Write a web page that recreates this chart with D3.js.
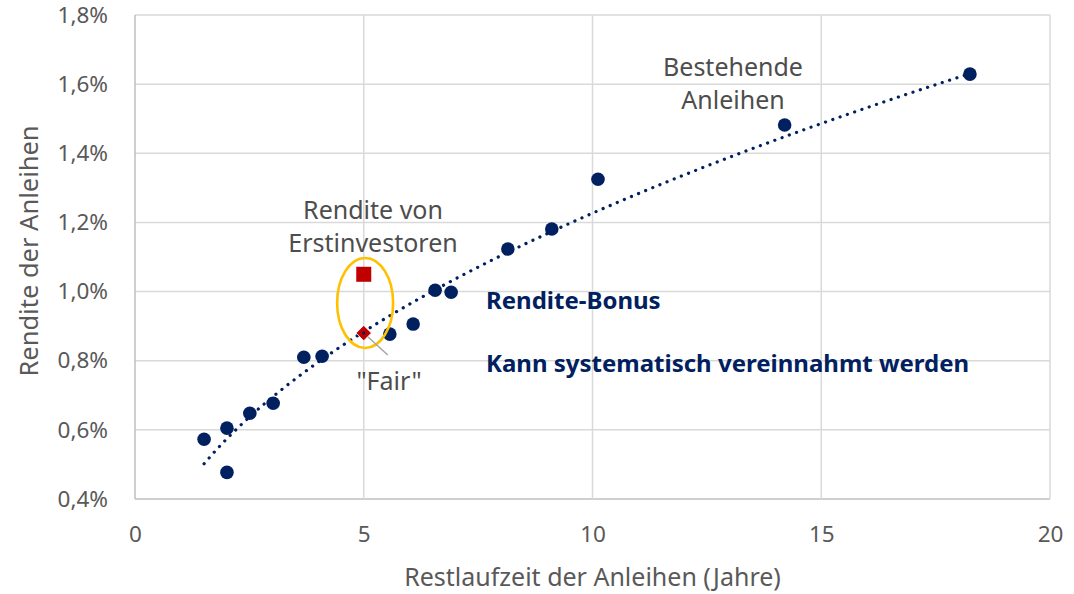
<!DOCTYPE html>
<html>
<head>
<meta charset="utf-8">
<script src="https://cdn.jsdelivr.net/npm/d3@7"></script>
<style>
    body { margin: 0; background: #fff; }
    svg text { font-family: "Noto Sans", "Open Sans", sans-serif; }
</style>
</head>
<body>
<div class="paint"></div>
<script>
// Restlaufzeit (Jahre) und Rendite (%) der bestehenden Anleihen
var laufzeit = [1.51, 2.01, 2.01, 2.51, 3.02, 3.69, 4.09, 5.57, 6.08, 6.56, 6.91, 8.15, 9.11, 10.12, 14.2, 18.25];
var rendite = [0.573, 0.605, 0.477, 0.648, 0.677, 0.810, 0.813, 0.877, 0.906, 1.004, 0.998, 1.123, 1.181, 1.325, 1.482, 1.629];
// Neuemission
var erstLaufzeit = [5];
var erstRendite = [1.05];
var fairRendite = [0.88];
var xTicks = [0, 5, 10, 15, 20];
var yTicks = [0.4, 0.6, 0.8, 1.0, 1.2, 1.4, 1.6, 1.8];

var main;
(function (main) {
    var W = 1074, H = 594;
    var navy = "#002060", grau = "#595959";
    function ini() {
        var svg = d3.select(".paint").append("svg").attr("width", W).attr("height", H);
        var x = d3.scaleLinear().domain([0, 20]).range([135, 1050]);
        var y = d3.scaleLinear().domain([0.4, 1.8]).range([499, 15]);
        var fmt = (d) => d.toFixed(1).replace(".", ",") + "%";

        // Gitter
        svg.append("g").selectAll("line").data(yTicks).enter().append("line")
            .attr("x1", x(0)).attr("x2", x(20))
            .attr("y1", (d) => y(d)).attr("y2", (d) => y(d))
            .attr("stroke", (d) => d == 0.4 ? "#bfbfbf" : "#d9d9d9").attr("stroke-width", 1.5);
        svg.append("g").selectAll("line").data(xTicks).enter().append("line")
            .attr("x1", (d) => x(d)).attr("x2", (d) => x(d))
            .attr("y1", y(0.4)).attr("y2", y(1.8))
            .attr("stroke", (d) => d == 0 ? "#bfbfbf" : "#d9d9d9").attr("stroke-width", 1.5);

        // Achsen
        var ay = svg.append("g").attr("transform", "translate(" + x(0) + ",0)")
            .call(d3.axisLeft(y).tickValues(yTicks).tickFormat(fmt).tickSize(0).tickPadding(27));
        var ax = svg.append("g").attr("transform", "translate(0," + y(0.4) + ")")
            .call(d3.axisBottom(x).tickValues(xTicks).tickSize(0).tickPadding(27));
        [ay, ax].forEach((a) => {
            a.select(".domain").remove();
            a.selectAll("text").attr("fill", grau).style("font-size", "22.5px")
                .style("font-family", "\"Noto Sans\", sans-serif");
        });

        svg.append("text").attr("x", (x(0) + x(20)) / 2).attr("y", 586)
            .attr("text-anchor", "middle").attr("fill", grau).style("font-size", "25px")
            .text("Restlaufzeit der Anleihen (Jahre)");
        svg.append("text").attr("transform", "translate(38,251) rotate(-90)")
            .attr("text-anchor", "middle").attr("fill", grau).style("font-size", "25.5px")
            .text("Rendite der Anleihen");

        // Potenz-Trendlinie (Regression im log-log Raum)
        var lx = laufzeit.map(Math.log), ly = rendite.map(Math.log);
        var mx = d3.mean(lx), my = d3.mean(ly);
        var b = d3.sum(lx, (v, i) => (v - mx) * (ly[i] - my)) / d3.sum(lx, (v) => (v - mx) * (v - mx));
        var a = Math.exp(my - b * mx);
        var ext = d3.extent(laufzeit);
        var trend = d3.range(0, 101).map((k) => ext[0] + (ext[1] - ext[0]) * k / 100);
        svg.append("path").datum(trend)
            .attr("d", d3.line().x((d) => x(d)).y((d) => y(a * Math.pow(d, b))))
            .attr("fill", "none").attr("stroke", navy).attr("stroke-width", 3.2)
            .attr("stroke-linecap", "round").attr("stroke-dasharray", "0.1 7.6");

        // Punkte
        svg.append("g").selectAll("circle").data(laufzeit).enter().append("circle")
            .attr("cx", (d) => x(d)).attr("cy", (d, i) => y(rendite[i]))
            .attr("r", 6.8).attr("fill", navy);

        // Ellipse
        svg.append("ellipse").attr("cx", x(5.03)).attr("cy", y(0.967))
            .attr("rx", 28).attr("ry", 45).attr("fill", "none")
            .attr("stroke", "#ffc000").attr("stroke-width", 2.6);

        // Erstinvestoren & Fair
        svg.append("g").selectAll("rect").data(erstLaufzeit).enter().append("rect")
            .attr("x", (d) => x(d) - 7.5).attr("y", (d, i) => y(erstRendite[i]) - 7.5)
            .attr("width", 15).attr("height", 15).attr("fill", "#c00000");
        svg.append("line").attr("x1", x(5)).attr("y1", y(fairRendite[0]))
            .attr("x2", x(5) + 24).attr("y2", y(fairRendite[0]) + 22)
            .attr("stroke", "#a6a6a6").attr("stroke-width", 1.5);
        svg.append("g").selectAll("path").data(erstLaufzeit).enter().append("path")
            .attr("d", d3.symbol().type(d3.symbolDiamond2).size(150))
            .attr("transform", (d, i) => "translate(" + x(d) + "," + y(fairRendite[i]) + ")")
            .attr("fill", "#c00000").attr("stroke", "#fff").attr("stroke-width", 0.8);
        svg.append("circle").attr("cx", x(5)).attr("cy", y(fairRendite[0])).attr("r", 1.6).attr("fill", navy);

        // Beschriftungen
        var lab = (tx, px, py, opt) => svg.append("text").attr("x", px).attr("y", py)
            .attr("text-anchor", opt.anchor || "middle").attr("fill", opt.fill || "#4d4d4d")
            .style("font-size", (opt.size || 25) + "px").style("font-weight", opt.weight || "normal")
            .text(tx);
        lab("Rendite von", 373, 219, {});
        lab("Erstinvestoren", 373, 252, {});
        lab("Bestehende", 733, 76, {});
        lab("Anleihen", 733, 109, {});
        lab("\"Fair\"", 389, 390, {});
        lab("Rendite-Bonus", 486, 309, { anchor: "start", fill: navy, weight: "bold", size: 24 });
        lab("Kann systematisch vereinnahmt werden", 486, 372, { anchor: "start", fill: navy, weight: "bold", size: 24 });
    }
    main.ini = ini;
})(main || (main = {}));
main.ini();
</script>
</body>
</html>
